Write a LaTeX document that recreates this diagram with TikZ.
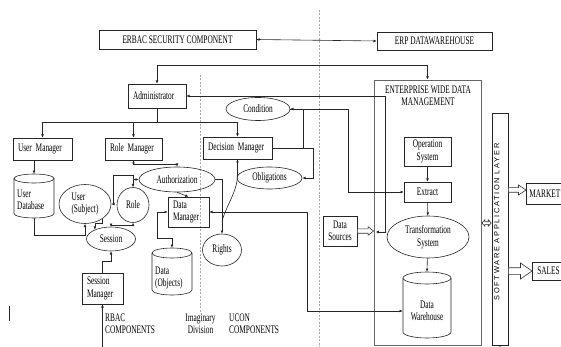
\documentclass[tikz,border=0pt]{standalone}
\usepackage{fontspec}
\setmainfont{Liberation Serif}[FakeStretch=0.64]
\newfontfamily\salfont{Liberation Sans}[LetterSpace=23]
\usetikzlibrary{arrows.meta,shapes.geometric,calc}

\tikzset{
  ln/.style={draw=black!85, line width=0.6pt},
  arr/.style={ln, -{Latex[length=3.2pt,width=2.8pt]}},
  arrb/.style={ln, {Latex[length=3.2pt,width=2.8pt]}-{Latex[length=3.2pt,width=2.8pt]}},
  txt/.style={font=\fontsize{11.5}{12.5}\selectfont, inner sep=0pt},
  bx/.style={txt, draw=black!85, line width=0.6pt, rectangle, align=center},
  lbx/.style={bx, align=left, inner xsep=5pt},
  el/.style={txt, draw=black!85, line width=0.6pt, ellipse, align=center},
  hollow/.style={draw=black!80, line width=0.6pt, fill=white},
  divider/.style={draw=black!35, line width=0.6pt, dash pattern=on 2pt off 1.5pt},
}

\newcommand\cylnode[6]{%
  \node[inner sep=0pt, minimum width={2*#5}, minimum height={#4-#3}] (#1) at (#2,{(#3+#4)/2}) {};
  \draw[ln] (#2-#5,#3+#6) -- (#2-#5,#4-#6) arc[start angle=180,end angle=0,x radius=#5,y radius=#6] -- (#2+#5,#3+#6);
  \draw[ln] (#2,#3+#6) ellipse[x radius=#5, y radius=#6];
}
\newcommand\hollowarrow[5]{%
  \path[hollow] let \p1=(#1), \p2=(#2) in (\x1,\y1+#3pt) -- (\x2-#5pt,\y1+#3pt) -- (\x2-#5pt,\y1+#4pt) -- (\x2,\y1) -- (\x2-#5pt,\y1-#4pt) -- (\x2-#5pt,\y1-#3pt) -- (\x1,\y1-#3pt) -- cycle;}

\begin{document}
\begin{tikzpicture}[x=1pt,y=-1pt]
\useasboundingbox (0,0) rectangle (561,347);
\clip (0,0) rectangle (561,347);

% dividers
\draw[divider] (319,10) -- (319,347);
\draw[divider] (200,75) -- (200,313);

% top boxes
\node[bx, minimum width=157pt, minimum height=19pt] (erbac) at (177.5,39.5) {ERBAC SECURITY COMPONENT};
\node[bx, minimum width=115pt, minimum height=18pt] (erp) at (434.5,41) {ERP DATAWAREHOUSE};

% RBAC side
\node[lbx, text width=48pt, minimum height=24pt] (admin) at (157,96) {Administrator};
\node[lbx, text width=49pt, minimum height=22pt] (usermgr) at (42.5,149) {User Manager};
\node[lbx, text width=47pt, minimum height=22pt] (rolemgr) at (133.5,149) {Role Manager};
\node[lbx, text width=59pt, minimum height=22pt] (decmgr) at (237.5,148) {Decision Manager};
\node[lbx, text width=31pt, minimum height=30pt] (datamgr) at (188.5,212) {Data\\Manager};
\node[lbx, text width=31pt, minimum height=31pt] (sessmgr) at (102.5,288.5) {Session\\Manager};

\node[el, minimum width=64pt, minimum height=23pt] (cond) at (258,109) {Condition};
\node[el, minimum width=65pt, minimum height=22pt] (oblig) at (269.5,178) {Obligations};
\node[el, minimum width=76pt, minimum height=25pt] (auth) at (177,179.5) {Authorization};
\node[el, minimum width=52pt, minimum height=39pt, align=left] (user) at (85,204) {User\\(Subject)};
\node[el, minimum width=32pt, minimum height=35pt] (role) at (133,205) {Role};
\node[el, minimum width=49pt, minimum height=24pt] (session) at (111,239) {Session};
\node[el, minimum width=39pt, minimum height=32pt] (rights) at (222,250) {Rights};

\cylnode{udb}{34}{174}{218}{20}{4.5}
\node[txt, align=left, anchor=west] (udbt) at (17,200) {User\\Database};
\cylnode{dobj}{172}{248}{295}{20}{5}
\node[txt, align=left, anchor=west] (dobjt) at (155,278) {Data\\(Objects)};

% enterprise side
\node[draw=black!60, line width=0.8pt, minimum width=107pt, minimum height=265pt, inner sep=0pt] (ewdm) at (427.5,212.5) {};
\node[txt, align=center] (ewdmt) at (428,96) {ENTERPRISE WIDE DATA\\MANAGEMENT};
\node[bx, minimum width=47pt, minimum height=29pt] (opsys) at (427.5,151.5) {Operation\\System};
\node[bx, minimum width=47pt, minimum height=20pt] (extract) at (427.5,192) {Extract};
\node[el, minimum width=82pt, minimum height=42pt] (ts) at (428,237) {Transformation\\System};
\cylnode{dw}{427}{272}{338}{24}{6}
\node[txt, align=center] (dwt) at (427,311) {Data\\Warehouse};
\node[bx, minimum width=34pt, minimum height=30pt] (ds) at (340,231) {Data\\Sources};

\node[draw=black!85, line width=0.6pt, minimum width=16pt, minimum height=232pt, inner sep=0pt] (sal) at (500,229) {};
\node[rotate=90, inner sep=0pt, font=\salfont\fontsize{7.4}{9}\selectfont] (salt) at (496.7,222) {SOFTWARE APPLICATION LAYER};
\node[lbx, inner xsep=3pt, text width=40pt, minimum height=21pt, anchor=west] (market) at (526,193.5) {MARKET};
\node[lbx, inner xsep=5pt, text width=40pt, minimum height=18pt, anchor=west] (sales) at (532,271) {SALES};

% small mark
\draw[ln] (9,306) -- (9,321);

% bottom labels
\node[txt, align=left, anchor=west] (rbac) at (105,323.5) {RBAC\\COMPONENTS};
\node[txt, align=center] (imag) at (200.5,323.5) {Imaginary\\Division};
\node[txt, align=left, anchor=west] (ucon) at (229,323.5) {UCON\\COMPONENTS};

% connectors
\draw[arrb] (erbac.east) -- (erp.west);
\draw[arrb] (admin.north) -- ++(0,-18) -| (ewdm.north);
\coordinate (bus) at ($(admin.south)+(0,14)$);
\draw[ln] (admin.south) -- (bus);
\draw[arr] (bus) -| (usermgr.north);
\draw[arr] (bus) -| (rolemgr.north);
\draw[arr] (bus) -| (decmgr.north);
\coordinate (adminend) at ($(ewdm.west)+(2,19.5)$);
\draw[arrb] (admin.east) -| ($(adminend)+(10,0)$) -- (adminend);
\draw[arrb] (cond.east) -- ++(58,0) |- (extract.west);
\draw[arr] (decmgr.east) -- ++(41,0) |- (oblig.east);
\draw[ln] ($(decmgr.east)+(31,0)$) |- (cond.east);
\draw[arrb] (rolemgr.south) -- ++(0,4) -| (auth.north);
\draw[arrb] (user.east) -- ++(2,0) |- ($(role.north)+(0,-12)$) -- (role.north);
\draw[arr] (role.north |- auth.west) -- (auth.west);
\draw[arr] (auth.east) -| (rights.north);
\draw[arr] (auth.south) -- (datamgr.north);
\draw[arr] ($(rights.north)+(0,-12)$) .. controls +(3,-14) and +(0,16) .. ($(decmgr.south)+(0,16)$) -- (decmgr.south);
\draw[arrb] (datamgr.east) -- ++(98,0) |- ($(dw.west)+(0,6)$);
\draw[arrb] (datamgr.west) -| ($(dobj.north)+(-15,-10)$) -| (dobj.north);
\draw[arr] (udb.south) -- ++(0,17) -| (user.south);
\draw[arr] (udb.north |- usermgr.south) -- (udb.north);
\draw[arr] (user.-40) -- ++(0,5) -| (session.150);
\draw[arrb] (role.south) -- ++(0,2) -| (session.north);
\draw[arr] (sessmgr.north) -- ++(0,-11) -| (session.south);
\coordinate (smin) at (102.5,352);
\draw[arr] (smin) -- (sessmgr.south);
\draw[arr] (opsys) -- (extract);
\draw[arr] (extract) -- (ts);
\draw[arr] (ts) -- (dw.north);
\coordinate (salin) at (500,352);
\draw[arr] (salin) -- (sal.south);

% hollow arrows
\hollowarrow{ds.east}{ewdm.west |- ds.east}{2.2}{4.2}{5.5}
\coordinate (mkin) at ($(market.west)+(0,-3.5)$);
\hollowarrow{sal.east |- mkin}{mkin}{2.3}{5}{7.5}
\hollowarrow{sal.east |- sales.west}{sales.west}{3.3}{8}{11.5}
\coordinate (dbl) at ($(ewdm.east)+(0,10.5)$);
\path[hollow] let \p1=(dbl), \p2=(sal.west |- dbl) in
  (\x1+0.5pt,\y1) -- (\x1+3.5pt,\y1+3.3pt) -- (\x1+3.5pt,\y1+1.3pt) -- (\x2-3.5pt,\y1+1.3pt) -- (\x2-3.5pt,\y1+3.3pt) -- (\x2-0.5pt,\y1) -- (\x2-3.5pt,\y1-3.3pt) -- (\x2-3.5pt,\y1-1.3pt) -- (\x1+3.5pt,\y1-1.3pt) -- (\x1+3.5pt,\y1-3.3pt) -- cycle;
\end{tikzpicture}
\end{document}
